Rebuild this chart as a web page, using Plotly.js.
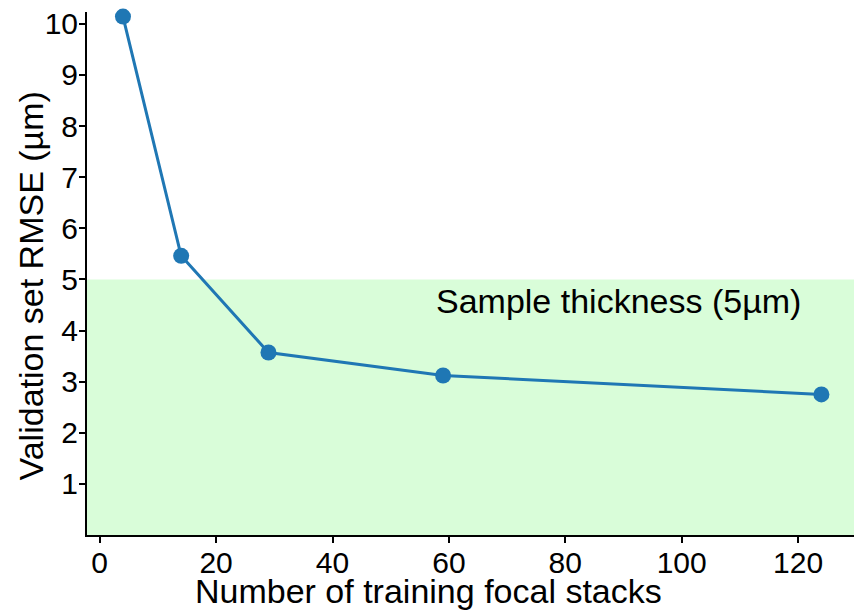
<!DOCTYPE html>
<html>
<head>
<meta charset="utf-8">
<script src="https://cdn.plot.ly/plotly-3.0.1.min.js"></script>
<style>html,body{margin:0;padding:0;background:#fff;}#chart{width:854px;height:610px;}</style>
</head>
<body>
<div id="chart"></div>
<script>
const stacks = [4, 14, 29, 59, 124];
const rmse = [10.14, 5.46, 3.57, 3.12, 2.75];
const xTicks = [0, 20, 40, 60, 80, 100, 120];
const yTicks = [1, 2, 3, 4, 5, 6, 7, 8, 9, 10];
const thickness = 5;
const xTitle = "Number of training focal stacks";
const yTitle = "Validation set RMSE (µm)";
const bandLabel = "Sample thickness (5µm)";

const FONT = "Liberation Sans, Arial, sans-serif";

const trace = {
  x: stacks, y: rmse, type: 'scatter', mode: 'lines+markers',
  line: {color: '#1f77b4', width: 3},
  marker: {color: '#1f77b4', size: 16},
  cliponaxis: false,
  hoverinfo: 'x+y'
};

const layout = {
  width: 854, height: 610,
  margin: {l: 87, r: 0, t: 12, b: 75, pad: 0},
  paper_bgcolor: '#fff', plot_bgcolor: '#fff',
  showlegend: false,
  font: {family: FONT, color: '#000', size: 30},
  xaxis: {
    range: [-2.18, 129.6], tickvals: xTicks, ticktext: xTicks.map(String),
    showgrid: false, zeroline: false, showline: true, linecolor: '#000', linewidth: 2,
    ticks: 'outside', ticklen: 6, tickwidth: 2, tickcolor: '#000',
    ticklabelstandoff: -6,
    tickfont: {family: FONT, size: 30, color: '#000'}
  },
  yaxis: {
    range: [0, 10.23], tickvals: yTicks, ticktext: yTicks.map(String),
    showgrid: false, zeroline: false, showline: true, linecolor: '#000', linewidth: 2,
    ticks: 'outside', ticklen: 6, tickwidth: 2, tickcolor: '#000',
    ticklabelstandoff: -5,
    tickfont: {family: FONT, size: 30, color: '#000'}
  },
  shapes: [{
    type: 'rect', xref: 'paper', yref: 'y', x0: 0, x1: 1, y0: 0, y1: thickness,
    fillcolor: 'rgb(217,253,217)', line: {width: 0}, layer: 'below'
  }],
  annotations: [
    {text: bandLabel, xref: 'x', yref: 'y', x: 89.1, y: 4.57, xanchor: 'center', yanchor: 'middle',
     showarrow: false, font: {family: FONT, size: 34, color: '#000'}},
    {text: xTitle, xref: 'paper', yref: 'paper', x: 0.4457, y: -0.108, xanchor: 'center', yanchor: 'middle',
     showarrow: false, font: {family: FONT, size: 34, color: '#000'}},
    {text: yTitle, xref: 'paper', yref: 'paper', x: -0.0734, y: 0.4766, xanchor: 'center', yanchor: 'middle',
     textangle: -90, showarrow: false, font: {family: FONT, size: 34, color: '#000'}}
  ]
};

Plotly.newPlot('chart', [trace], layout, {displayModeBar: false, staticPlot: true});
</script>
</body>
</html>
